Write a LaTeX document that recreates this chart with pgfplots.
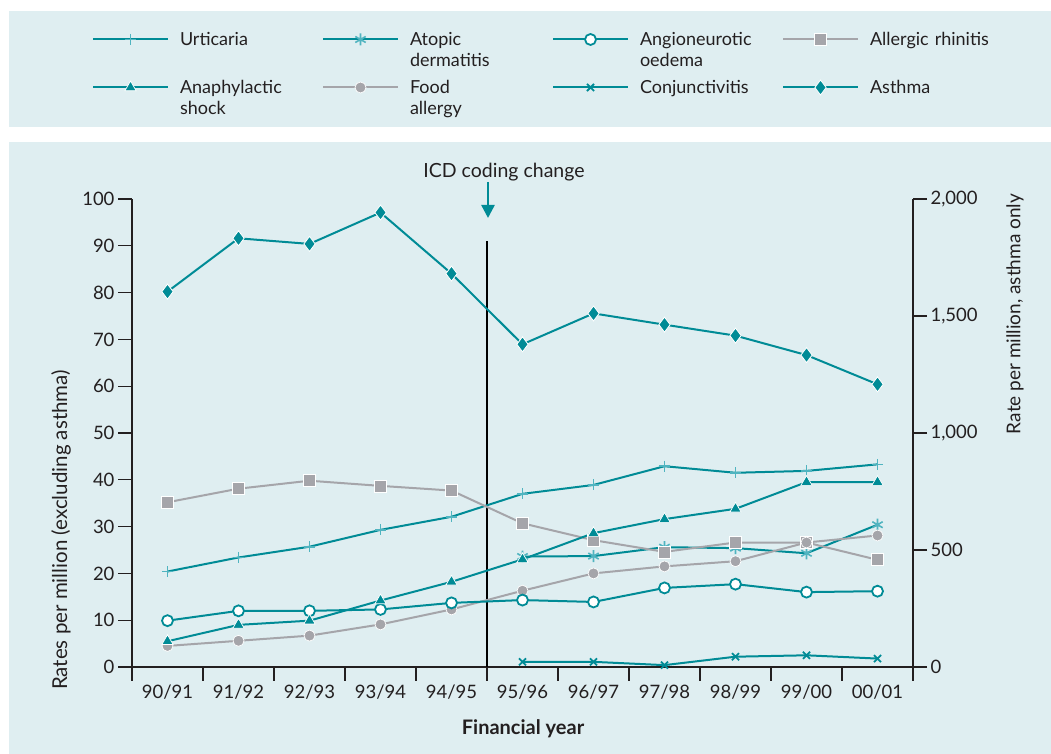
\documentclass[border=0pt]{standalone}
\usepackage{pgfplots}
\pgfplotsset{compat=1.18}
\usepackage{fontspec}
\setmainfont{Lato}
\usetikzlibrary{arrows.meta}
\definecolor{tealc}{RGB}{0,139,150}
\definecolor{lteal}{RGB}{80,180,192}
\definecolor{greyc}{RGB}{165,165,170}
\definecolor{bgc}{RGB}{223,238,241}
\definecolor{axc}{RGB}{35,31,32}
\pgfplotsset{
  uline/.style={tealc, line width=2pt, mark=+, mark size=5.5pt, mark options={draw=lteal, solid, line width=1.6pt}},
  aline/.style={tealc, line width=2pt, mark=asterisk, mark size=6pt, mark options={draw=lteal, solid, line width=1.6pt}},
  oline/.style={tealc, line width=2pt, mark=*, mark size=5.5pt, mark options={fill=white, draw=tealc, solid, line width=1.8pt}},
  rline/.style={greyc, line width=2pt, mark=square*, mark size=6pt, mark options={fill=greyc, draw=white, solid, line width=0.7pt}},
  sline/.style={tealc, line width=2pt, mark=triangle*, mark size=6.5pt, mark options={fill=tealc, draw=white, solid, line width=0.7pt}},
  fline/.style={greyc, line width=2pt, mark=*, mark size=5.5pt, mark options={fill=greyc, draw=white, solid, line width=0.7pt}},
  cline/.style={tealc, line width=2pt, mark=x, mark size=5pt, mark options={draw=tealc, solid, line width=1.8pt}},
  dline/.style={tealc, line width=2pt, mark=diamond*, mark size=7.5pt, mark options={fill=tealc, draw=white, solid, line width=0.8pt}},
}
\begin{document}
\begin{tikzpicture}[x=1pt,y=1pt]
\useasboundingbox (0,0) rectangle (1051,754);
\fill[white] (0,0) rectangle (1051,754);
\fill[bgc] (8.7,626.7) rectangle (1051,743.3);
\fill[bgc] (8.7,0) rectangle (1051,612);
\begin{axis}[
  at={(132pt,87pt)}, anchor=south west,
  scale only axis, width=781pt, height=468pt,
  xmin=-0.5, xmax=10.5, ymin=0, ymax=100,
  axis x line*=bottom, axis y line*=left,
  axis line style={-, axc, line width=1.3pt},
  every tick/.style={axc, line width=1.3pt},
  major tick length=14pt,
  tick align=outside,
  xtick={-0.5,0.5,1.5,2.5,3.5,4.5,5.5,6.5,7.5,8.5,9.5,10.5},
  x tick label as interval,
  xticklabels={90/91,91/92,92/93,93/94,94/95,95/96,96/97,97/98,98/99,99/00,00/01},
  ytick={0,10,...,100},
  tick label style={font=\fontsize{18.5}{21}\selectfont, text=axc},
  /pgf/number format/assume math mode=true,
  clip=false,
]
\addplot[black, line width=1.2pt, forget plot] coordinates {(4.5,0) (4.5,91)};
\addplot[uline] coordinates {(0,20.4)(1,23.4)(2,25.7)(3,29.3)(4,32.1)(5,37.0)(6,38.9)(7,42.9)(8,41.5)(9,41.9)(10,43.3)};
\addplot[aline] coordinates {(5,23.6)(6,23.7)(7,25.6)(8,25.4)(9,24.3)(10,30.4)};
\addplot[rline] coordinates {(0,35.2)(1,38.1)(2,39.8)(3,38.7)(4,37.7)(5,30.7)(6,27.1)(7,24.6)(8,26.6)(9,26.6)(10,22.9)};
\addplot[fline] coordinates {(0,4.5)(1,5.6)(2,6.7)(3,9.1)(4,12.3)(5,16.3)(6,20.0)(7,21.5)(8,22.6)(9,26.6)(10,28.1)};
\addplot[oline] coordinates {(0,9.9)(1,12.0)(2,12.0)(3,12.3)(4,13.7)(5,14.3)(6,13.9)(7,16.9)(8,17.7)(9,16.0)(10,16.2)};
\addplot[sline] coordinates {(0,5.5)(1,9.0)(2,9.9)(3,14.2)(4,18.2)(5,23.0)(6,28.6)(7,31.6)(8,33.8)(9,39.5)(10,39.5)};
\addplot[cline] coordinates {(5,1.1)(6,1.1)(7,0.4)(8,2.2)(9,2.5)(10,1.8)};
\end{axis}
\begin{axis}[
  at={(132pt,87pt)}, anchor=south west,
  scale only axis, width=781pt, height=468pt,
  xmin=-0.5, xmax=10.5, ymin=0, ymax=2000,
  axis x line=none, axis y line*=right,
  axis line style={-, axc, line width=1.3pt},
  every tick/.style={axc, line width=1.3pt},
  major tick length=14pt,
  tick align=outside,
  ytick={0,500,...,2000},
  tick label style={font=\fontsize{18.5}{21}\selectfont, text=axc},
  /pgf/number format/assume math mode=true,
  /pgf/number format/1000 sep={,},
  clip=false,
  legend columns=4,
  legend cell align=left,
  legend style={at={(-0.0512,1.3547)}, anchor=north west, draw=none, fill=none, inner sep=0pt, outer sep=0pt,
    font=\fontsize{18}{21}\selectfont, text=axc,
    nodes={inner sep=0pt, text width=142pt, text height=13pt, text depth=0pt, align=left},
    /tikz/every odd column/.style={column sep=11pt},
    /tikz/every even column/.style={column sep=0pt},
    row sep=34pt},
  legend image code/.code={\draw[mark repeat=2,mark phase=2,#1] plot coordinates {(0pt,0pt)(37.5pt,0pt)(75pt,0pt)};},
]
\addlegendimage{uline}\addlegendentry{Urticaria}
\addlegendimage{aline}\addlegendentry{Atopic\\dermatitis}
\addlegendimage{oline}\addlegendentry{Angioneurotic\\oedema}
\addlegendimage{rline}\addlegendentry{Allergic rhinitis}
\addlegendimage{sline}\addlegendentry{Anaphylactic\\shock}
\addlegendimage{fline}\addlegendentry{Food\\allergy}
\addlegendimage{cline}\addlegendentry{Conjunctivitis}
\addplot[dline] coordinates {(0,1604)(1,1832)(2,1808)(3,1942)(4,1681)(5,1379)(6,1511)(7,1463)(8,1416)(9,1333)(10,1208)};
\addlegendentry{Asthma}
\end{axis}
\draw[tealc, line width=2.5pt, -{Triangle[width=13pt,length=13pt]}] (488,572) -- (488,536);
\node[font=\fontsize{19.5}{22}\selectfont, text=axc] at (504,582) {ICD coding change};
\node[font=\fontsize{20.5}{23}\selectfont, text=axc, rotate=90] at (61,224) {Rates per million (excluding asthma)};
\node[font=\fontsize{19}{22}\selectfont, text=axc, rotate=90] at (1015,440) {Rate per million, asthma only};
\node[font=\fontsize{20}{23}\selectfont\bfseries, text=axc] at (523,25) {Financial year};
\end{tikzpicture}
\end{document}
